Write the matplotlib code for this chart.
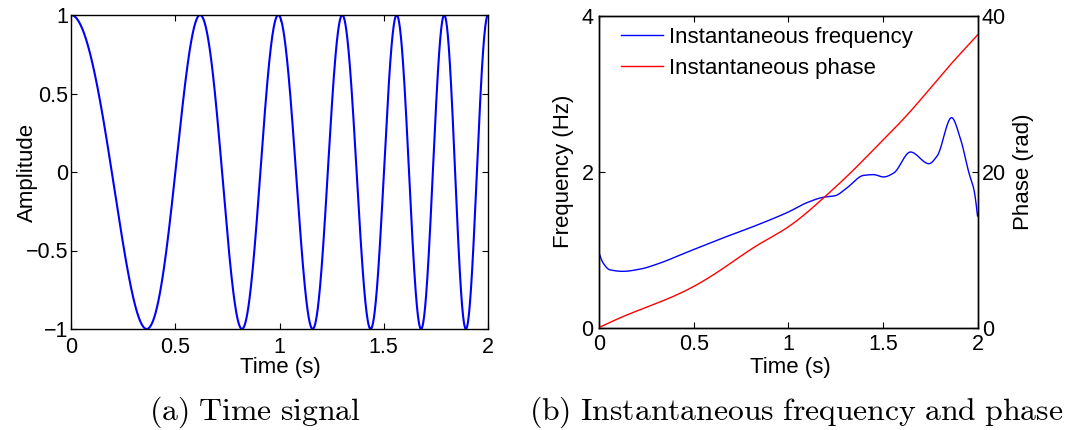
import numpy as np
import matplotlib
matplotlib.use("Agg")
import matplotlib.pyplot as plt

# ---- data ----
# (a) time signal: times of successive extrema (peak, trough, peak, ...)
extrema_t = [0.0, 0.363, 0.619, 0.820, 0.994, 1.159, 1.301, 1.437, 1.562,
             1.679, 1.790, 1.894, 2.0]

# (b) instantaneous frequency (Hz)
freq_t = [0.0, 0.021, 0.057, 0.127, 0.22, 0.304, 0.48, 0.657, 0.80, 0.904,
          1.0, 1.098, 1.186, 1.248, 1.31, 1.398, 1.45, 1.504, 1.557, 1.646,
          1.743, 1.787, 1.863, 1.911, 1.955, 1.981, 2.0]
freq_v = [0.96, 0.83, 0.74, 0.72, 0.75, 0.81, 0.98, 1.15, 1.28, 1.38,
          1.48, 1.60, 1.67, 1.69, 1.79, 1.95, 1.96, 1.93, 1.98, 2.25,
          2.10, 2.20, 2.69, 2.41, 1.98, 1.77, 1.43]

# (b) instantaneous phase (rad)
phase_t = [0.0, 0.127, 0.304, 0.48, 0.657, 0.834, 1.0, 1.195, 1.328, 1.451,
           1.645, 1.857, 1.928, 2.0]
phase_v = [0.0, 1.4, 3.1, 5.0, 7.6, 10.5, 12.9, 16.8, 19.8, 22.8,
           27.7, 33.7, 35.6, 37.5]

xticks = [0, 0.5, 1, 1.5, 2]
xticklabels = ["0", "0.5", "1", "1.5", "2"]
amp_ticks = [-1, -0.5, 0, 0.5, 1]
amp_ticklabels = ["\u22121", "\u22120.5", "0", "0.5", "1"]


def pchip(x, y, xn):
    x = np.asarray(x, float)
    y = np.asarray(y, float)
    h = np.diff(x)
    d = np.diff(y) / h
    n = len(x)
    m = np.zeros(n)
    for k in range(1, n - 1):
        if d[k - 1] * d[k] > 0:
            w1 = 2 * h[k] + h[k - 1]
            w2 = h[k] + 2 * h[k - 1]
            m[k] = (w1 + w2) / (w1 / d[k - 1] + w2 / d[k])
        else:
            m[k] = 0.0
    m[0] = ((2 * h[0] + h[1]) * d[0] - h[0] * d[1]) / (h[0] + h[1])
    if np.sign(m[0]) != np.sign(d[0]):
        m[0] = 0
    m[-1] = ((2 * h[-1] + h[-2]) * d[-1] - h[-1] * d[-2]) / (h[-1] + h[-2])
    if np.sign(m[-1]) != np.sign(d[-1]):
        m[-1] = 0
    idx = np.clip(np.searchsorted(x, xn) - 1, 0, n - 2)
    t = (xn - x[idx]) / h[idx]
    h00 = 2 * t**3 - 3 * t**2 + 1
    h10 = t**3 - 2 * t**2 + t
    h01 = -2 * t**3 + 3 * t**2
    h11 = t**3 - t**2
    return (h00 * y[idx] + h10 * h[idx] * m[idx] + h01 * y[idx + 1]
            + h11 * h[idx] * m[idx + 1])


def cubic_spline(x, y, xn):
    x = np.asarray(x, float)
    y = np.asarray(y, float)
    n = len(x)
    h = np.diff(x)
    A = np.zeros((n, n))
    b = np.zeros(n)
    A[0, 0] = 1
    A[-1, -1] = 1
    for i in range(1, n - 1):
        A[i, i - 1] = h[i - 1]
        A[i, i] = 2 * (h[i - 1] + h[i])
        A[i, i + 1] = h[i]
        b[i] = 3 * ((y[i + 1] - y[i]) / h[i] - (y[i] - y[i - 1]) / h[i - 1])
    c = np.linalg.solve(A, b)
    bb = (y[1:] - y[:-1]) / h - h * (2 * c[:-1] + c[1:]) / 3
    dd = (c[1:] - c[:-1]) / (3 * h)
    idx = np.clip(np.searchsorted(x, xn) - 1, 0, n - 2)
    dx = xn - x[idx]
    return y[idx] + bb[idx] * dx + c[idx] * dx**2 + dd[idx] * dx**3


plt.rcParams['font.family'] = ['Liberation Sans', 'DejaVu Sans']
plt.rcParams['mathtext.fontset'] = 'cm'

W, H = 1071, 430
fig = plt.figure(figsize=(W / 100, H / 100), dpi=100)

L1, R1, T1, B1 = 71, 488, 15, 329
L2, R2, T2, B2 = 599, 977.5, 15.5, 327.5
ax1 = fig.add_axes([L1 / W, 1 - B1 / H, (R1 - L1) / W, (B1 - T1) / H])
ax2 = fig.add_axes([L2 / W, 1 - B2 / H, (R2 - L2) / W, (B2 - T2) / H])

FS = 16
TFS = 15.5

# ---- (a) ----
tt = np.linspace(0, 2, 2000)
ext_phase = np.pi * np.arange(len(extrema_t))
ph = cubic_spline(extrema_t, ext_phase, tt)
ax1.plot(tt, np.cos(ph), color=(0, 0, 1), lw=1.5)
ax1.set_xlim(0, 2)
ax1.set_ylim(-1, 1)
ax1.set_xticks(xticks)
ax1.set_xticklabels(xticklabels)
ax1.set_yticks(amp_ticks)
ax1.set_yticklabels(amp_ticklabels)
ax1.set_xlabel("Time (s)", fontsize=FS)
ax1.set_ylabel("Amplitude", fontsize=FS)
ax1.xaxis.label.set_va("center")
ax1.yaxis.label.set_va("center")
ax1.xaxis.set_label_coords((280 - L1) / (R1 - L1), (B1 - 367) / (B1 - T1))
ax1.yaxis.set_label_coords((27 - L1) / (R1 - L1), 0.5)

# ---- (b) ----
fv = pchip(freq_t, freq_v, tt)
pv = cubic_spline(phase_t, phase_v, tt)
l1, = ax2.plot(tt, fv, color=(0, 0, 1), lw=1.0, label="Instantaneous frequency")
ax3 = ax2.twinx()
l2, = ax3.plot(tt, pv, color=(1, 0, 0), lw=1.0, label="Instantaneous phase")
ax2.set_xlim(0, 2)
ax2.set_ylim(0, 4)
ax3.set_ylim(0, 40)
ax2.set_xticks(xticks)
ax2.set_xticklabels(xticklabels)
ax2.set_yticks([0, 2, 4])
ax3.set_yticks([0, 20, 40])
ax2.set_xlabel("Time (s)", fontsize=FS)
ax2.set_ylabel("Frequency (Hz)", fontsize=FS)
ax3.set_ylabel("Phase (rad)", fontsize=FS)
ax2.xaxis.label.set_va("center")
ax2.yaxis.label.set_va("center")
ax3.yaxis.label.set_va("center")
ax2.xaxis.set_label_coords((790 - L2) / (R2 - L2), (B2 - 367) / (B2 - T2))
ax2.yaxis.set_label_coords((564 - L2) / (R2 - L2), 0.5)
ax3.yaxis.set_label_coords((1023 - L2) / (R2 - L2), 0.5)

leg = ax2.legend(handles=[l1, l2], loc="upper left", frameon=False,
                 fontsize=FS, handlelength=1.9, handletextpad=0.25,
                 labelspacing=0.45, borderaxespad=0.0, borderpad=0.0,
                 bbox_to_anchor=((621 - L2) / (R2 - L2),
                                 (B2 - 27) / (B2 - T2)))

for ax in (ax1, ax2, ax3):
    for s in ax.spines.values():
        s.set_linewidth(1.0)
    ax.tick_params(direction="in", length=4, width=0.8, labelsize=TFS)
ax1.tick_params(top=True, right=True)
ax1.tick_params(axis="x", pad=6)
ax1.tick_params(axis="y", pad=2)
ax2.tick_params(top=True, right=False)
ax2.tick_params(axis="x", pad=5)
ax2.tick_params(axis="y", pad=4)
ax3.tick_params(right=True, left=False, pad=3)

fig.text(255 / W, 1 - 412 / H, r"$\mathrm{(a)\ Time\ signal}$",
         ha="center", va="center", fontsize=22.8)
fig.text(796 / W, 1 - 412 / H,
         r"$\mathrm{(b)\ Instantaneous\ frequency\ and\ phase}$",
         ha="center", va="center", fontsize=22.8)

fig.savefig("out.png", dpi=100)
